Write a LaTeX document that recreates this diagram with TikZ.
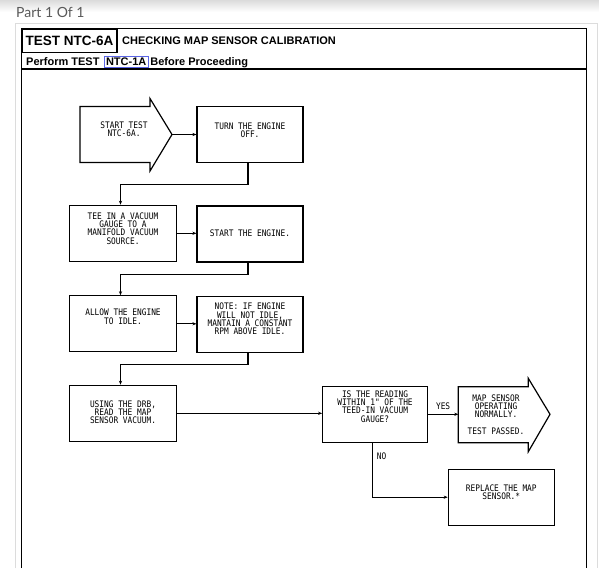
\documentclass[tikz,border=0pt]{standalone}
\usepackage{fontspec}
\setmainfont{Liberation Sans}
\newfontfamily\plotfont[FakeStretch=0.87]{DejaVu Sans Mono}
\newfontfamily\pagefont{Lato}
\usetikzlibrary{arrows.meta,positioning}
\definecolor{framegray}{HTML}{DCDCDC}
\definecolor{linkblue}{HTML}{5A64E6}

\begin{document}
\begin{tikzpicture}[x=1pt,y=-1pt,
    box/.style={draw, line width=1.2pt, minimum width=106pt, minimum height=56pt,
      inner sep=1pt, align=center, font=\plotfont\fontsize{9}{8.3}\selectfont},
    tag/.style={inner sep=1pt, align=center, font=\plotfont\fontsize{9}{8.3}\selectfont},
    head/.style={inner sep=0pt, font=\bfseries\fontsize{11}{13}\selectfont},
    link/.style={line width=1.1pt, -{Stealth[length=4pt,width=3.2pt]}}]
  \useasboundingbox (0,0) rectangle (599,568);
  \shade[top color=black!14, bottom color=white] (0,0) rectangle (599,12);
  \node[anchor=west, inner sep=0pt, text=black!65, font=\pagefont\fontsize{14}{16}\selectfont] (part) at (16,12) {Part 1 Of 1};

  % page frame
  \draw[framegray, line width=1.5pt] (15.3,568) |- (597.3,23.3) -- (597.3,568);
  \draw[line width=1.4pt] (21.7,568) |- (586.7,28.3) -- (586.7,568);
  \draw[line width=1.2pt] (21.7,69) -- (586.7,69);

  \node[draw, line width=1.2pt, anchor=north west, minimum width=94.6pt, minimum height=23.4pt,
    inner sep=0pt, font=\bfseries\fontsize{13.5}{15}\selectfont] (test) at (21.7,28.3) {TEST NTC-6A};
  \node[head, anchor=west] (title) at (122,40.5) {CHECKING MAP SENSOR CALIBRATION};
  \node[head, anchor=west] (perf) at (26,61.5) {Perform TEST};
  \node[head, draw=linkblue, line width=0.6pt, inner xsep=2pt, inner ysep=1.6pt,
    text height=8pt, text depth=0.5pt, base right=4pt of perf] (ntc) {NTC-1A};
  \node[head, base right=1.5pt of ntc] (proc) {Before Proceeding};

  % start arrow
  \draw[line width=1.2pt] (80,106.5) -- (150,106.5) -- (150,98.5) -- (172,134.5)
    -- (150,171) -- (150,162.5) -- (80,162.5) -- cycle;
  \coordinate (starttip) at (172,134.5);
  \node[tag] (start) at (124,129) {START TEST\\NTC-6A.};

  \node[box, text depth=9pt] (off) at (250,134.7) {TURN THE ENGINE\\OFF.};
  \node[box, minimum width=107.4pt, text depth=10pt] (tee) at (123,233.3) {TEE IN A VACUUM\\GAUGE TO A\\MANIFOLD VACUUM\\SOURCE.};
  \node[box, text depth=2pt] (se) at (250,234) {START THE ENGINE.};
  \node[box, minimum width=107.4pt, text depth=14pt] (allow) at (123,323.8) {ALLOW THE ENGINE\\TO IDLE.};
  \node[box, text depth=11pt] (note) at (250,324.5) {NOTE: IF ENGINE\\WILL NOT IDLE,\\MANTAIN A CONSTANT\\RPM ABOVE IDLE.};
  \node[box, minimum width=107.4pt, text depth=2pt] (using) at (123,413.3) {USING THE DRB,\\READ THE MAP\\SENSOR VACUUM.};
  \node[box, minimum width=104.6pt, text depth=16pt] (dec) at (375,414.3) {IS THE READING\\WITHIN 1" OF THE\\TEED-IN VACUUM\\GAUGE?};
  \node[box, text depth=10pt] (repl) at (501.3,497.2) {REPLACE THE MAP\\SENSOR.*};

  % pass arrow
  \draw[line width=1.2pt] (458.3,386.7) -- (528.3,386.7) -- (528.3,378.3) -- (550,414.3)
    -- (528.3,451.7) -- (528.3,442.7) -- (458.3,442.7) -- cycle;
  \coordinate (passtail) at (458.3,414.3);
  \node[tag] (pass) at (496,414.5) {MAP SENSOR\\OPERATING\\NORMALLY.\\[8pt]TEST PASSED.};

  \draw[link] (starttip) -- (starttip -| off.west);
  \draw[link] ([xshift=-2pt]off.south) -- ++(0,21.3) -| ([xshift=-2.5pt]tee.north);
  \draw[link] (tee.east) -- (tee.east -| se.west);
  \draw[link] ([xshift=-2pt]se.south) -- ++(0,11.7) -| ([xshift=-2.5pt]allow.north);
  \draw[link] (allow.east) -- (allow.east -| note.west);
  \draw[link] ([xshift=-2pt]note.south) -- ++(0,11.7) -| ([xshift=-2.5pt]using.north);
  \draw[link] (using.east) -- (using.east -| dec.west);
  \draw[link] (dec.east) -- (passtail) node[tag, midway, above=3pt] (yes) {YES};
  \draw[link] ([xshift=-2.7pt]dec.south) |- (repl.west) node[tag, pos=0.12, anchor=west, xshift=3pt] (no) {NO};
\end{tikzpicture}
\end{document}
